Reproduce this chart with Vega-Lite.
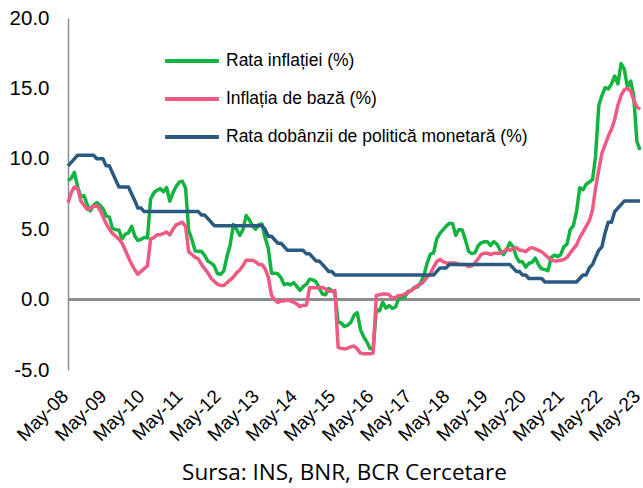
{
  "$schema": "https://vega.github.io/schema/vega-lite/v6.json",
  "autosize": "none",
  "width": 572,
  "height": 352,
  "padding": {"left": 68, "top": 18, "right": 3, "bottom": 118},
  "background": "white",
  "config": {"view": {"stroke": null}, "font": "Liberation Sans"},
  "title": {"text": "Sursa: INS, BNR, BCR Cercetare", "orient": "bottom", "anchor": "middle", "font": "Open Sans", "fontSize": 22.5, "fontWeight": "normal", "color": "#000000", "offset": 17, "dx": -9.5},
  "data": {
    "format": {"parse": {"date": "date:'%Y-%m'"}},
    "values": [
      {"date":"2008-05","cpi":8.46,"core":6.9,"rate":9.5},
      {"date":"2008-06","cpi":8.61,"core":7.6,"rate":9.75},
      {"date":"2008-07","cpi":9.04,"core":8.0,"rate":10.0},
      {"date":"2008-08","cpi":8.02,"core":7.9,"rate":10.25},
      {"date":"2008-09","cpi":7.30,"core":7.0,"rate":10.25},
      {"date":"2008-10","cpi":7.39,"core":6.7,"rate":10.25},
      {"date":"2008-11","cpi":6.74,"core":6.4,"rate":10.25},
      {"date":"2008-12","cpi":6.30,"core":6.5,"rate":10.25},
      {"date":"2009-01","cpi":6.71,"core":6.6,"rate":10.25},
      {"date":"2009-02","cpi":6.89,"core":6.7,"rate":10.0},
      {"date":"2009-03","cpi":6.71,"core":6.4,"rate":10.0},
      {"date":"2009-04","cpi":6.45,"core":5.9,"rate":10.0},
      {"date":"2009-05","cpi":5.95,"core":5.4,"rate":9.5},
      {"date":"2009-06","cpi":5.86,"core":5.0,"rate":9.5},
      {"date":"2009-07","cpi":5.06,"core":4.7,"rate":9.0},
      {"date":"2009-08","cpi":4.96,"core":4.5,"rate":8.5},
      {"date":"2009-09","cpi":4.94,"core":4.3,"rate":8.0},
      {"date":"2009-10","cpi":4.31,"core":4.0,"rate":8.0},
      {"date":"2009-11","cpi":4.65,"core":3.5,"rate":8.0},
      {"date":"2009-12","cpi":4.74,"core":3.0,"rate":8.0},
      {"date":"2010-01","cpi":5.20,"core":2.5,"rate":7.5},
      {"date":"2010-02","cpi":4.49,"core":2.1,"rate":7.0},
      {"date":"2010-03","cpi":4.20,"core":1.8,"rate":6.5},
      {"date":"2010-04","cpi":4.28,"core":2.0,"rate":6.5},
      {"date":"2010-05","cpi":4.42,"core":2.2,"rate":6.25},
      {"date":"2010-06","cpi":4.38,"core":2.4,"rate":6.25},
      {"date":"2010-07","cpi":7.14,"core":4.3,"rate":6.25},
      {"date":"2010-08","cpi":7.58,"core":4.4,"rate":6.25},
      {"date":"2010-09","cpi":7.77,"core":4.6,"rate":6.25},
      {"date":"2010-10","cpi":7.88,"core":4.6,"rate":6.25},
      {"date":"2010-11","cpi":7.67,"core":4.7,"rate":6.25},
      {"date":"2010-12","cpi":7.96,"core":4.8,"rate":6.25},
      {"date":"2011-01","cpi":6.99,"core":4.6,"rate":6.25},
      {"date":"2011-02","cpi":7.60,"core":5.0,"rate":6.25},
      {"date":"2011-03","cpi":8.01,"core":5.3,"rate":6.25},
      {"date":"2011-04","cpi":8.34,"core":5.4,"rate":6.25},
      {"date":"2011-05","cpi":8.41,"core":5.5,"rate":6.25},
      {"date":"2011-06","cpi":7.93,"core":5.2,"rate":6.25},
      {"date":"2011-07","cpi":4.93,"core":3.4,"rate":6.25},
      {"date":"2011-08","cpi":4.25,"core":3.2,"rate":6.25},
      {"date":"2011-09","cpi":3.45,"core":3.0,"rate":6.25},
      {"date":"2011-10","cpi":3.44,"core":2.9,"rate":6.25},
      {"date":"2011-11","cpi":3.41,"core":2.5,"rate":6.0},
      {"date":"2011-12","cpi":3.14,"core":2.2,"rate":6.0},
      {"date":"2012-01","cpi":2.72,"core":1.9,"rate":5.75},
      {"date":"2012-02","cpi":2.60,"core":1.5,"rate":5.5},
      {"date":"2012-03","cpi":2.40,"core":1.3,"rate":5.25},
      {"date":"2012-04","cpi":1.85,"core":1.1,"rate":5.25},
      {"date":"2012-05","cpi":1.79,"core":1.0,"rate":5.25},
      {"date":"2012-06","cpi":2.04,"core":1.0,"rate":5.25},
      {"date":"2012-07","cpi":3.05,"core":1.2,"rate":5.25},
      {"date":"2012-08","cpi":3.88,"core":1.4,"rate":5.25},
      {"date":"2012-09","cpi":5.33,"core":1.6,"rate":5.25},
      {"date":"2012-10","cpi":5.00,"core":1.9,"rate":5.25},
      {"date":"2012-11","cpi":4.56,"core":2.1,"rate":5.25},
      {"date":"2012-12","cpi":4.95,"core":2.4,"rate":5.25},
      {"date":"2013-01","cpi":5.97,"core":2.8,"rate":5.25},
      {"date":"2013-02","cpi":5.65,"core":2.8,"rate":5.25},
      {"date":"2013-03","cpi":5.25,"core":2.8,"rate":5.25},
      {"date":"2013-04","cpi":5.0,"core":2.7,"rate":5.25},
      {"date":"2013-05","cpi":5.32,"core":2.5,"rate":5.25},
      {"date":"2013-06","cpi":5.37,"core":2.5,"rate":5.25},
      {"date":"2013-07","cpi":4.41,"core":2.2,"rate":5.0},
      {"date":"2013-08","cpi":3.67,"core":1.6,"rate":4.5},
      {"date":"2013-09","cpi":1.88,"core":0.3,"rate":4.5},
      {"date":"2013-10","cpi":1.88,"core":0.0,"rate":4.25},
      {"date":"2013-11","cpi":1.83,"core":-0.2,"rate":4.0},
      {"date":"2013-12","cpi":1.55,"core":-0.1,"rate":4.0},
      {"date":"2014-01","cpi":1.06,"core":-0.1,"rate":3.75},
      {"date":"2014-02","cpi":1.14,"core":0.0,"rate":3.5},
      {"date":"2014-03","cpi":1.04,"core":-0.1,"rate":3.5},
      {"date":"2014-04","cpi":1.21,"core":-0.2,"rate":3.5},
      {"date":"2014-05","cpi":0.94,"core":-0.3,"rate":3.5},
      {"date":"2014-06","cpi":0.66,"core":-0.5,"rate":3.5},
      {"date":"2014-07","cpi":0.93,"core":-0.4,"rate":3.5},
      {"date":"2014-08","cpi":1.08,"core":-0.4,"rate":3.25},
      {"date":"2014-09","cpi":1.45,"core":0.85,"rate":3.25},
      {"date":"2014-10","cpi":1.40,"core":0.85,"rate":3.0},
      {"date":"2014-11","cpi":1.27,"core":0.85,"rate":2.75},
      {"date":"2014-12","cpi":0.83,"core":0.85,"rate":2.75},
      {"date":"2015-01","cpi":0.40,"core":0.87,"rate":2.5},
      {"date":"2015-02","cpi":0.35,"core":0.75,"rate":2.25},
      {"date":"2015-03","cpi":0.79,"core":0.6,"rate":2.0},
      {"date":"2015-04","cpi":0.65,"core":0.6,"rate":2.0},
      {"date":"2015-05","cpi":0.45,"core":0.65,"rate":1.75},
      {"date":"2015-06","cpi":-1.60,"core":-3.4,"rate":1.75},
      {"date":"2015-07","cpi":-1.66,"core":-3.45,"rate":1.75},
      {"date":"2015-08","cpi":-1.91,"core":-3.5,"rate":1.75},
      {"date":"2015-09","cpi":-1.81,"core":-3.45,"rate":1.75},
      {"date":"2015-10","cpi":-1.62,"core":-3.35,"rate":1.75},
      {"date":"2015-11","cpi":-1.10,"core":-3.3,"rate":1.75},
      {"date":"2015-12","cpi":-0.93,"core":-3.5,"rate":1.75},
      {"date":"2016-01","cpi":-2.13,"core":-3.8,"rate":1.75},
      {"date":"2016-02","cpi":-2.66,"core":-3.85,"rate":1.75},
      {"date":"2016-03","cpi":-2.99,"core":-3.85,"rate":1.75},
      {"date":"2016-04","cpi":-3.48,"core":-3.85,"rate":1.75},
      {"date":"2016-05","cpi":-3.50,"core":-3.8,"rate":1.75},
      {"date":"2016-06","cpi":-0.71,"core":0.3,"rate":1.75},
      {"date":"2016-07","cpi":-0.80,"core":0.35,"rate":1.75},
      {"date":"2016-08","cpi":-0.20,"core":0.4,"rate":1.75},
      {"date":"2016-09","cpi":-0.60,"core":0.4,"rate":1.75},
      {"date":"2016-10","cpi":-0.43,"core":0.35,"rate":1.75},
      {"date":"2016-11","cpi":-0.62,"core":0.1,"rate":1.75},
      {"date":"2016-12","cpi":-0.54,"core":0.15,"rate":1.75},
      {"date":"2017-01","cpi":0.05,"core":0.3,"rate":1.75},
      {"date":"2017-02","cpi":0.15,"core":0.3,"rate":1.75},
      {"date":"2017-03","cpi":0.18,"core":0.4,"rate":1.75},
      {"date":"2017-04","cpi":0.58,"core":0.5,"rate":1.75},
      {"date":"2017-05","cpi":0.64,"core":0.65,"rate":1.75},
      {"date":"2017-06","cpi":0.88,"core":0.8,"rate":1.75},
      {"date":"2017-07","cpi":0.90,"core":1.0,"rate":1.75},
      {"date":"2017-08","cpi":1.21,"core":1.1,"rate":1.75},
      {"date":"2017-09","cpi":1.77,"core":1.3,"rate":1.75},
      {"date":"2017-10","cpi":2.61,"core":1.6,"rate":1.75},
      {"date":"2017-11","cpi":3.23,"core":1.85,"rate":1.75},
      {"date":"2017-12","cpi":3.32,"core":2.3,"rate":1.75},
      {"date":"2018-01","cpi":4.32,"core":2.7,"rate":2.0},
      {"date":"2018-02","cpi":4.72,"core":2.85,"rate":2.25},
      {"date":"2018-03","cpi":4.95,"core":2.7,"rate":2.25},
      {"date":"2018-04","cpi":5.22,"core":2.6,"rate":2.25},
      {"date":"2018-05","cpi":5.41,"core":2.6,"rate":2.5},
      {"date":"2018-06","cpi":5.41,"core":2.6,"rate":2.5},
      {"date":"2018-07","cpi":4.56,"core":2.6,"rate":2.5},
      {"date":"2018-08","cpi":4.98,"core":2.5,"rate":2.5},
      {"date":"2018-09","cpi":4.95,"core":2.5,"rate":2.5},
      {"date":"2018-10","cpi":4.26,"core":2.5,"rate":2.5},
      {"date":"2018-11","cpi":3.43,"core":2.35,"rate":2.5},
      {"date":"2018-12","cpi":3.27,"core":2.4,"rate":2.5},
      {"date":"2019-01","cpi":3.32,"core":2.6,"rate":2.5},
      {"date":"2019-02","cpi":3.83,"core":2.9,"rate":2.5},
      {"date":"2019-03","cpi":4.03,"core":3.2,"rate":2.5},
      {"date":"2019-04","cpi":4.11,"core":3.3,"rate":2.5},
      {"date":"2019-05","cpi":4.10,"core":3.3,"rate":2.5},
      {"date":"2019-06","cpi":3.84,"core":3.2,"rate":2.5},
      {"date":"2019-07","cpi":4.12,"core":3.3,"rate":2.5},
      {"date":"2019-08","cpi":3.93,"core":3.3,"rate":2.5},
      {"date":"2019-09","cpi":3.49,"core":3.3,"rate":2.5},
      {"date":"2019-10","cpi":3.19,"core":3.4,"rate":2.5},
      {"date":"2019-11","cpi":3.55,"core":3.6,"rate":2.5},
      {"date":"2019-12","cpi":4.04,"core":3.5,"rate":2.5},
      {"date":"2020-01","cpi":3.75,"core":3.6,"rate":2.25},
      {"date":"2020-02","cpi":3.05,"core":3.7,"rate":2.0},
      {"date":"2020-03","cpi":2.68,"core":3.5,"rate":2.0},
      {"date":"2020-04","cpi":2.68,"core":3.5,"rate":1.75},
      {"date":"2020-05","cpi":2.30,"core":3.4,"rate":1.75},
      {"date":"2020-06","cpi":2.58,"core":3.6,"rate":1.5},
      {"date":"2020-07","cpi":2.63,"core":3.7,"rate":1.5},
      {"date":"2020-08","cpi":2.95,"core":3.6,"rate":1.5},
      {"date":"2020-09","cpi":2.47,"core":3.5,"rate":1.5},
      {"date":"2020-10","cpi":2.18,"core":3.4,"rate":1.5},
      {"date":"2020-11","cpi":2.13,"core":3.2,"rate":1.25},
      {"date":"2020-12","cpi":2.06,"core":3.0,"rate":1.25},
      {"date":"2021-01","cpi":2.99,"core":2.8,"rate":1.25},
      {"date":"2021-02","cpi":3.16,"core":2.75,"rate":1.25},
      {"date":"2021-03","cpi":3.05,"core":2.75,"rate":1.25},
      {"date":"2021-04","cpi":3.17,"core":2.8,"rate":1.25},
      {"date":"2021-05","cpi":3.75,"core":2.85,"rate":1.25},
      {"date":"2021-06","cpi":3.94,"core":3.0,"rate":1.25},
      {"date":"2021-07","cpi":4.95,"core":3.3,"rate":1.25},
      {"date":"2021-08","cpi":5.25,"core":3.6,"rate":1.25},
      {"date":"2021-09","cpi":6.29,"core":3.9,"rate":1.25},
      {"date":"2021-10","cpi":7.94,"core":4.4,"rate":1.5},
      {"date":"2021-11","cpi":7.80,"core":4.8,"rate":1.75},
      {"date":"2021-12","cpi":8.19,"core":5.2,"rate":1.75},
      {"date":"2022-01","cpi":8.35,"core":5.6,"rate":2.25},
      {"date":"2022-02","cpi":8.53,"core":6.4,"rate":2.5},
      {"date":"2022-03","cpi":10.15,"core":7.9,"rate":3.0},
      {"date":"2022-04","cpi":13.76,"core":9.2,"rate":3.5},
      {"date":"2022-05","cpi":14.49,"core":10.4,"rate":3.75},
      {"date":"2022-06","cpi":15.05,"core":11.0,"rate":4.75},
      {"date":"2022-07","cpi":14.96,"core":11.6,"rate":5.5},
      {"date":"2022-08","cpi":15.32,"core":12.1,"rate":5.5},
      {"date":"2022-09","cpi":15.88,"core":12.8,"rate":6.25},
      {"date":"2022-10","cpi":15.32,"core":13.8,"rate":6.5},
      {"date":"2022-11","cpi":16.76,"core":14.5,"rate":6.75},
      {"date":"2022-12","cpi":16.37,"core":14.9,"rate":7.0},
      {"date":"2023-01","cpi":15.07,"core":15.0,"rate":7.0},
      {"date":"2023-02","cpi":15.52,"core":14.8,"rate":7.0},
      {"date":"2023-03","cpi":14.53,"core":14.2,"rate":7.0},
      {"date":"2023-04","cpi":11.23,"core":13.7,"rate":7.0},
      {"date":"2023-05","cpi":10.64,"core":13.5,"rate":7.0}
    ]
  },
  "layer": [
    {
      "mark": {"type": "rule", "color": "#8c8c8c", "strokeWidth": 2},
      "encoding": {"y": {"datum": 0, "type": "quantitative"}}
    },
    {
      "transform": [{"fold": ["cpi", "core", "rate"], "as": ["series", "value"]}],
      "mark": {"type": "line", "strokeWidth": 3.5, "strokeJoin": "round"},
      "encoding": {
        "x": {
          "field": "date", "type": "temporal",
          "scale": {"domain": [{"year": 2008, "month": 5, "date": 1}, {"year": 2023, "month": 5, "date": 1}], "nice": false, "padding": 0},
          "axis": {
            "title": null, "domain": false, "ticks": false, "grid": false,
            "values": [
              {"year": 2008, "month": 5, "date": 1}, {"year": 2009, "month": 5, "date": 1},
              {"year": 2010, "month": 5, "date": 1}, {"year": 2011, "month": 5, "date": 1},
              {"year": 2012, "month": 5, "date": 1}, {"year": 2013, "month": 5, "date": 1},
              {"year": 2014, "month": 5, "date": 1}, {"year": 2015, "month": 5, "date": 1},
              {"year": 2016, "month": 5, "date": 1}, {"year": 2017, "month": 5, "date": 1},
              {"year": 2018, "month": 5, "date": 1}, {"year": 2019, "month": 5, "date": 1},
              {"year": 2020, "month": 5, "date": 1}, {"year": 2021, "month": 5, "date": 1},
              {"year": 2022, "month": 5, "date": 1}, {"year": 2023, "month": 5, "date": 1}
            ],
            "format": "%b-%y",
            "labelAngle": -45, "labelAlign": "right", "labelBaseline": "alphabetic",
            "labelPadding": 27, "labelOffset": 1, "labelFontSize": 19, "labelFont": "Liberation Sans",
            "labelColor": "#000000", "labelOverlap": false, "labelBound": false, "labelFlush": false
          }
        },
        "y": {
          "field": "value", "type": "quantitative",
          "scale": {"domain": [-5, 20], "nice": false, "zero": false},
          "axis": {
            "title": null, "values": [-5, 0, 5, 10, 15, 20],
            "labelExpr": "(datum.value < 0 ? '-' : '') + format(abs(datum.value), '.1f')",
            "grid": false, "ticks": false, "domain": true, "domainColor": "#8c8c8c", "domainWidth": 1.5,
            "labelFontSize": 20.5, "labelFont": "Liberation Sans", "labelColor": "#000000", "labelPadding": 19,
            "labelFlush": false, "labelOverlap": false
          }
        },
        "color": {
          "field": "series", "type": "nominal",
          "scale": {"domain": ["cpi", "core", "rate"], "range": ["#12B33F", "#EE5A82", "#2A5A80"]},
          "legend": {
            "title": null, "orient": "none", "legendX": 95, "legendY": 14,
            "direction": "vertical", "symbolType": "stroke", "symbolSize": 2900, "symbolStrokeWidth": 4,
            "rowPadding": -17, "labelOffset": 5, "labelFontSize": 17.5, "labelFont": "Liberation Sans",
            "labelColor": "#000000", "labelLimit": 500,
            "labelExpr": "datum.value == 'cpi' ? 'Rata inflației (%)' : datum.value == 'core' ? 'Inflația de bază (%)' : 'Rata dobânzii de politică monetară (%)'"
          }
        }
      }
    }
  ]
}
